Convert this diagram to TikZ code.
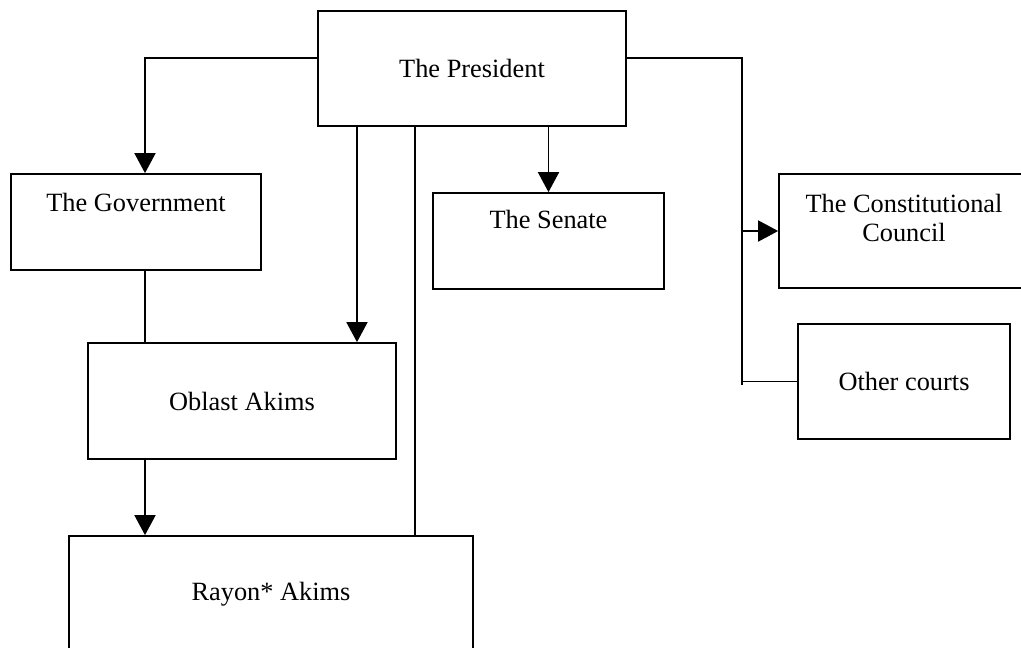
\documentclass[tikz,border=0pt]{standalone}
\usepackage{fontspec}
\setmainfont{Liberation Serif}
\usetikzlibrary{arrows.meta}
\tikzset{>={Triangle[length=0.4cm,width=0.42cm]}}
\tikzset{
    box/.style={draw,line width=1pt,inner sep=0pt},
    toptext/.style={anchor=north,inner sep=0pt,align=center},
}

\begin{document}
\begin{tikzpicture}[x=0.02cm,y=-0.02cm,line width=1pt,
        every node/.style={font=\fontsize{15}{16.5}\selectfont}]
            \useasboundingbox (0,0) rectangle (1021,647);
            \clip (0,0) rectangle (1021,647);
            % the boxes
            \node[box,minimum width=6.16cm,minimum height=2.3cm] (pres) at (472,68.5) {The President};
            \node[box,minimum width=5cm,minimum height=1.92cm,
                  label={[toptext,yshift=-0.38cm]north:The Government}] (gov) at (136,222) {};
            \node[box,minimum width=4.62cm,minimum height=1.92cm,
                  label={[toptext,yshift=-0.34cm]north:The Senate}] (senate) at (548.5,241) {};
            \node[box,minimum width=5cm,minimum height=2.28cm,
                  label={[toptext,yshift=-0.4cm]north:The Constitutional\\Council}] (council) at (904,231) {};
            \node[box,minimum width=4.24cm,minimum height=2.3cm] (courts) at (904,381.5) {Other courts};
            \node[box,minimum width=6.16cm,minimum height=2.32cm] (oblast) at (242,401) {Oblast Akims};
            \node[box,minimum width=8.08cm,minimum height=2.32cm] (rayon) at (271,594) {Rayon* Akims};
            % connectors
            \coordinate (govin) at ([xshift=0.18cm]gov.north);
            \coordinate (oblin) at ([xshift=2.3cm]oblast.north);
            \coordinate (rayin) at ([xshift=2.88cm]rayon.north);
            \coordinate (bus) at ([xshift=2.3cm,yshift=0.21cm]pres.east);
            \draw[->] ([yshift=0.21cm]pres.west) -| (govin);
            \draw[->] (pres.south -| oblin) -- (oblin);
            \draw (pres.south -| rayin) -- (rayin);
            \draw[->] (pres.south -| senate.north) -- (senate.north);
            \draw (gov.south -| govin) -- (oblast.north -| govin);
            \draw[->] (oblast.south -| govin) -- (rayon.north -| govin);
            \draw (pres.east |- bus) -- (bus) -- ([yshift=-0.06cm]bus |- courts.west);
            \draw[->] (bus |- council.west) -- (council.west);
            \draw (bus |- courts.west) -- (courts.west);
        \end{tikzpicture}
\end{document}
